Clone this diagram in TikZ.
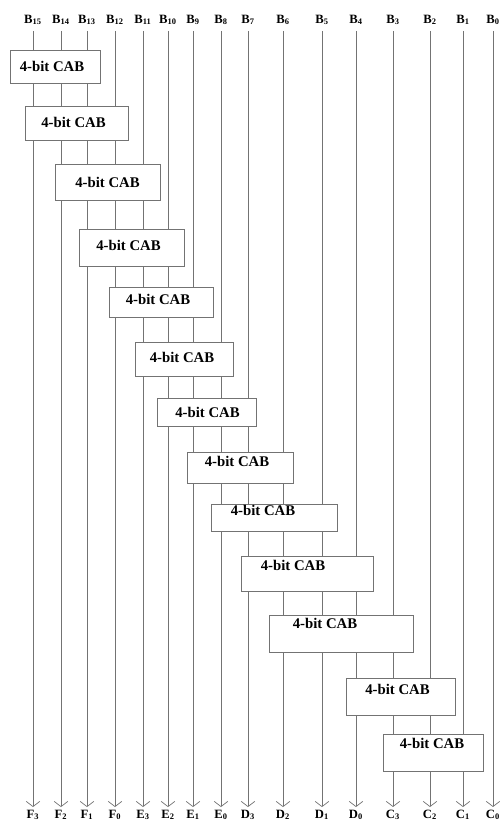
\documentclass[tikz,border=0pt]{standalone}
\usepackage{fontspec}
\setmainfont{Liberation Serif}
\usetikzlibrary{arrows.meta}

\newlength{\pxu}
\setlength{\pxu}{0.025cm}
% text of a CAB box, moved right by #1 and up by #2 (in pixels)
\newcommand{\cabtext}[2]{%
    \raisebox{#2\pxu}[\height][\depth]{\makebox[0pt]{\hspace*{#1\pxu}\hspace*{#1\pxu}4-bit CAB}}}

\begin{document}
\begin{tikzpicture}[
            x=0.025cm, y=-0.025cm,
            inbit/.style={
                    font=\fontsize{9}{10}\selectfont\bfseries,
                    inner sep=2pt
                },
            outbit/.style={
                    font=\fontsize{9}{10}\selectfont\bfseries,
                    inner sep=2pt
                },
            cab/.style={
                    draw=black!55,
                    fill=white,
                    line width=0.6pt,
                    inner sep=0pt,
                    font=\fontsize{10.5}{12}\selectfont\bfseries
                },
            arrow/.style={
                    -{Straight Barb[length=1.3mm,width=3.4mm]},
                    shorten <=2pt,
                    line width=0.5pt,
                    black!55
                }
        ]

        \useasboundingbox (0,0) rectangle (500,824);

        % input bits
        \node[inbit] (b15) at (33,20) {B\textsubscript{15}};
        \node[inbit] (b14) at (61,20) {B\textsubscript{14}};
        \node[inbit] (b13) at (87,20) {B\textsubscript{13}};
        \node[inbit] (b12) at (115,20) {B\textsubscript{12}};
        \node[inbit] (b11) at (143,20) {B\textsubscript{11}};
        \node[inbit] (b10) at (168,20) {B\textsubscript{10}};
        \node[inbit] (b9) at (193,20) {B\textsubscript{9}};
        \node[inbit] (b8) at (221,20) {B\textsubscript{8}};
        \node[inbit] (b7) at (248,20) {B\textsubscript{7}};
        \node[inbit] (b6) at (283,20) {B\textsubscript{6}};
        \node[inbit] (b5) at (322,20) {B\textsubscript{5}};
        \node[inbit] (b4) at (356,20) {B\textsubscript{4}};
        \node[inbit] (b3) at (393,20) {B\textsubscript{3}};
        \node[inbit] (b2) at (430,20) {B\textsubscript{2}};
        \node[inbit] (b1) at (463,20) {B\textsubscript{1}};
        \node[inbit] (b0) at (493,20) {B\textsubscript{0}};

        % output bits
        \node[outbit] (f3) at (33,815) {F\textsubscript{3}};
        \node[outbit] (f2) at (61,815) {F\textsubscript{2}};
        \node[outbit] (f1) at (87,815) {F\textsubscript{1}};
        \node[outbit] (f0) at (115,815) {F\textsubscript{0}};
        \node[outbit] (e3) at (143,815) {E\textsubscript{3}};
        \node[outbit] (e2) at (168,815) {E\textsubscript{2}};
        \node[outbit] (e1) at (193,815) {E\textsubscript{1}};
        \node[outbit] (e0) at (221,815) {E\textsubscript{0}};
        \node[outbit] (d3) at (248,815) {D\textsubscript{3}};
        \node[outbit] (d2) at (283,815) {D\textsubscript{2}};
        \node[outbit] (d1) at (322,815) {D\textsubscript{1}};
        \node[outbit] (d0) at (356,815) {D\textsubscript{0}};
        \node[outbit] (c3) at (393,815) {C\textsubscript{3}};
        \node[outbit] (c2) at (430,815) {C\textsubscript{2}};
        \node[outbit] (c1) at (463,815) {C\textsubscript{1}};
        \node[outbit] (c0) at (493,815) {C\textsubscript{0}};

        \draw[arrow] (b15.south) -- (f3.north);
        \draw[arrow] (b14.south) -- (f2.north);
        \draw[arrow] (b13.south) -- (f1.north);
        \draw[arrow] (b12.south) -- (f0.north);
        \draw[arrow] (b11.south) -- (e3.north);
        \draw[arrow] (b10.south) -- (e2.north);
        \draw[arrow] (b9.south) -- (e1.north);
        \draw[arrow] (b8.south) -- (e0.north);
        \draw[arrow] (b7.south) -- (d3.north);
        \draw[arrow] (b6.south) -- (d2.north);
        \draw[arrow] (b5.south) -- (d1.north);
        \draw[arrow] (b4.south) -- (d0.north);
        \draw[arrow] (b3.south) -- (c3.north);
        \draw[arrow] (b2.south) -- (c2.north);
        \draw[arrow] (b1.south) -- (c1.north);
        \draw[arrow] (b0.south) -- (c0.north);

        % the CAB stages
        \node[cab, minimum width=2.25cm, minimum height=0.825cm] (cab1) at (55,66.5) {\cabtext{-3}{0}};
        \node[cab, minimum width=2.575cm, minimum height=0.85cm] (cab2) at (76.5,123) {\cabtext{-3}{1}};
        \node[cab, minimum width=2.625cm, minimum height=0.9cm] (cab3) at (107.5,182) {\cabtext{0}{0}};
        \node[cab, minimum width=2.625cm, minimum height=0.925cm] (cab4) at (131.5,247.5) {\cabtext{-3}{2}};
        \node[cab, minimum width=2.6cm, minimum height=0.75cm] (cab5) at (161,302) {\cabtext{-3}{3}};
        \node[cab, minimum width=2.45cm, minimum height=0.85cm] (cab6) at (184,359) {\cabtext{-2}{2}};
        \node[cab, minimum width=2.475cm, minimum height=0.7cm] (cab7) at (206.5,412.5) {\cabtext{1}{0}};
        \node[cab, minimum width=2.65cm, minimum height=0.775cm] (cab8) at (240,467.5) {\cabtext{-3}{6}};
        \node[cab, minimum width=3.15cm, minimum height=0.675cm] (cab9) at (274,517.5) {\cabtext{-11}{7}};
        \node[cab, minimum width=3.3cm, minimum height=0.875cm] (cab10) at (307,573.5) {\cabtext{-14}{8}};
        \node[cab, minimum width=3.6cm, minimum height=0.925cm] (cab11) at (341,633.5) {\cabtext{-16}{10}};
        \node[cab, minimum width=2.725cm, minimum height=0.925cm] (cab12) at (400.5,696.5) {\cabtext{-3}{7}};
        \node[cab, minimum width=2.5cm, minimum height=0.925cm] (cab13) at (433,752.5) {\cabtext{-1}{9}};

    \end{tikzpicture}
\end{document}
